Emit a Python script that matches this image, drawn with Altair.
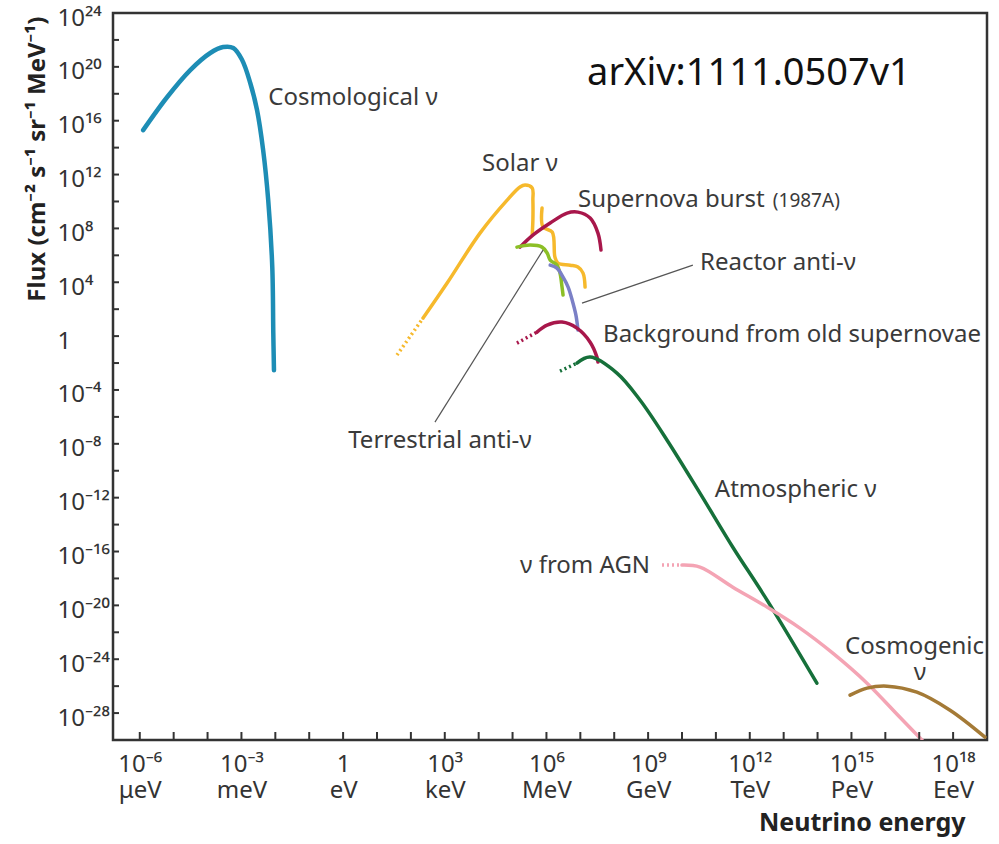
import altair as alt
import pandas as pd

# ---------------- data (log10 of energy in eV, log10 of flux) ----------------
cosmo_logE = [-5.90, -5.19, -4.51, -3.92, -3.54, -3.24, -2.98, -2.74, -2.54, -2.36, -2.21, -2.09, -2.06, -2.04]
cosmo_logF = [15.30, 17.76, 19.76, 21.03, 21.47, 21.40, 20.51, 18.80, 16.79, 13.82, 10.10, 5.13, 0.22, -2.53]

solar_logE = [2.36, 3.07, 4.04, 4.84, 5.22, 5.37, 5.58, 5.60, 5.60, 5.58]
solar_logF = [1.34, 3.94, 7.65, 10.10, 11.07, 11.22, 11.00, 10.10, 8.62, 7.50]
solar_dot_logE = [1.59, 2.36]
solar_dot_logF = [-1.41, 1.34]

solar_b_logE = [5.87, 5.90, 6.17, 6.25, 6.34, 6.70, 6.93, 7.08, 7.14]
solar_b_logF = [9.51, 8.10, 7.73, 5.87, 5.42, 5.27, 5.13, 4.68, 3.64]

snburst_logE = [5.22, 5.60, 6.11, 6.61, 6.93, 7.29, 7.52, 7.61]
snburst_logF = [6.61, 7.50, 8.40, 9.14, 9.21, 8.77, 7.65, 6.39]

terr_logE = [5.13, 5.52, 5.87, 6.02, 6.11, 6.31, 6.40, 6.46, 6.49]
terr_logF = [6.61, 6.76, 6.61, 6.17, 5.65, 5.27, 4.68, 3.64, 3.05]

reactor_logE = [6.11, 6.31, 6.49, 6.64, 6.76, 6.87, 6.93]
reactor_logF = [5.27, 5.05, 4.38, 3.64, 2.67, 1.56, 0.45]

dsnb_logE = [5.72, 6.02, 6.46, 6.90, 7.29, 7.49, 7.52]
dsnb_logF = [0.30, 0.82, 1.04, 0.59, -0.45, -1.56, -1.93]
dsnb_dot_logE = [5.13, 5.72]
dsnb_dot_logF = [-0.52, 0.30]

atm_logE = [6.90, 7.29, 8.08, 8.76, 9.56, 10.53, 11.50, 12.51, 13.98]
atm_logF = [-2.01, -1.56, -2.75, -4.75, -7.73, -11.66, -15.68, -19.61, -25.78]
atm_dot_logE = [6.40, 6.90]
atm_dot_logF = [-2.60, -2.01]

agn_logE = [10.00, 10.53, 11.50, 12.51, 13.48, 14.45, 15.46, 16.43, 17.08]
agn_logF = [-17.01, -17.16, -18.65, -20.13, -21.69, -23.55, -25.78, -28.31, -30.0]
agn_dot_logE = [9.41, 10.00]
agn_dot_logF = [-17.01, -17.01]

cosmogenic_logE = [14.96, 15.46, 16.05, 16.93, 17.91, 18.94]
cosmogenic_logF = [-26.67, -26.15, -26.00, -26.45, -27.79, -29.79]

# pointer lines (label leaders)
ptr_terr_logE = [2.71, 5.90]
ptr_terr_logF = [-6.39, 6.39]
ptr_react_logE = [7.05, 10.32]
ptr_react_logF = [2.45, 5.27]

series_names = ["cosmo", "solar", "solar_b", "snburst", "terr", "reactor", "dsnb", "atm", "agn", "cosmogenic"]
series_colors = ["#1d8db5", "#f6b92c", "#f6b92c", "#a8174b", "#8cbf26", "#7b80c6", "#a8174b", "#16703a", "#f4a4b4", "#a47a36"]

# annotations
ann_text = ["Cosmological ν", "Solar ν", "Supernova burst", "Reactor anti-ν",
            "Background from old supernovae", "Terrestrial anti-ν", "Atmospheric ν",
            "ν from AGN", "Cosmogenic"]
ann_logE = [-2.21, 4.10, 6.93, 10.53, 7.67, 0.15, 10.97, 5.22, 14.81]
ann_logF = [17.16, 12.26, 9.60, 4.90, -0.45, -8.32, -11.96, -17.61, -23.63]

small_text = ["(1987A)"]
small_logE = [12.68]
small_logF = [9.62]

nu_text = ["ν"]
nu_logE = [17.02]
nu_logF = [-25.55]

ref_text = ["arXiv:1111.0507v1"]
ref_logE = [7.20]
ref_logF = [18.65]

# axes
x_tick_exps = [-6, -3, 0, 3, 6, 9, 12, 15, 18]
x_tick_nums = ["10⁻⁶", "10⁻³", "1", "10³", "10⁶", "10⁹", "10¹²", "10¹⁵", "10¹⁸"]
x_tick_units = ["μeV", "meV", "eV", "keV", "MeV", "GeV", "TeV", "PeV", "EeV"]
x_minor_exps = [-6, -5, -4, -3, -2, -1, 0, 1, 2, 3, 4, 5, 6, 7, 8, 9, 10, 11, 12, 13, 14, 15, 16, 17, 18]

y_tick_exps = [24, 20, 16, 12, 8, 4, 0, -4, -8, -12, -16, -20, -24, -28]
y_tick_labels = ["10²⁴", "10²⁰", "10¹⁶", "10¹²", "10⁸", "10⁴", "\u20071", "10⁻⁴", "10⁻⁸",
                 "10⁻¹²", "10⁻¹⁶", "10⁻²⁰", "10⁻²⁴", "10⁻²⁸"]
y_minor_exps = [-28, -26, -24, -22, -20, -18, -16, -14, -12, -10, -8, -6, -4, -2, 0,
                2, 4, 6, 8, 10, 12, 14, 16, 18, 20, 22]

# ---------------- build tables ----------------
def curve(name, le, lf):
    return pd.DataFrame({"series": name, "i": range(len(le)),
                         "E": [10.0 ** v for v in le], "F": [10.0 ** v for v in lf]})

solid = pd.concat([
    curve("cosmo", cosmo_logE, cosmo_logF),
    curve("solar", solar_logE, solar_logF),
    curve("solar_b", solar_b_logE, solar_b_logF),
    curve("snburst", snburst_logE, snburst_logF),
    curve("terr", terr_logE, terr_logF),
    curve("reactor", reactor_logE, reactor_logF),
    curve("dsnb", dsnb_logE, dsnb_logF),
    curve("atm", atm_logE, atm_logF),
    curve("agn", agn_logE, agn_logF),
    curve("cosmogenic", cosmogenic_logE, cosmogenic_logF),
])
solid["w"] = [4.5 if s == "cosmo" else 3.5 for s in solid["series"]]

dotted = pd.concat([
    curve("solar", solar_dot_logE, solar_dot_logF),
    curve("dsnb", dsnb_dot_logE, dsnb_dot_logF),
    curve("atm", atm_dot_logE, atm_dot_logF),
    curve("agn", agn_dot_logE, agn_dot_logF),
])

pointers = pd.concat([
    curve("p1", ptr_terr_logE, ptr_terr_logF),
    curve("p2", ptr_react_logE, ptr_react_logF),
])

def texts(t, le, lf):
    return pd.DataFrame({"t": t, "E": [10.0 ** v for v in le], "F": [10.0 ** v for v in lf]})

xticks = pd.DataFrame({"E": [10.0 ** v for v in x_minor_exps]})
yticks = pd.DataFrame({"F": [10.0 ** v for v in y_minor_exps]})

# ---------------- scales / axes ----------------
FONT = "Noto Sans"
xscale = alt.Scale(type="log", domain=[10 ** -6.79, 10 ** 19.0], nice=False)
yscale = alt.Scale(type="log", domain=[1e-30, 1e24], nice=False)

def xlab_expr():
    e = "['']"
    for k, n, u in reversed(list(zip(x_tick_exps, x_tick_nums, x_tick_units))):
        e = f"round(log(datum.value)/LN10) == {k} ? ['{n}', '{u}'] : ({e})"
    return e

def ylab_expr():
    e = "''"
    for k, n in reversed(list(zip(y_tick_exps, y_tick_labels))):
        e = f"round(log(datum.value)/LN10) == {k} ? '{n}' : ({e})"
    return e

xaxis = alt.Axis(values=[10.0 ** k for k in x_tick_exps], labelExpr=xlab_expr(),
                 title="Neutrino energy", tickSize=0, domain=False, grid=False,
                 labelFont=FONT, labelFontSize=24, labelColor="#333", labelLineHeight=26,
                 labelPadding=12, labelOverlap=False, labelFlush=False, labelBound=False,
                 titleFont=FONT, titleFontSize=25, titleFontWeight="bold", titleColor="#222",
                 titleAnchor="end", titleAlign="right", titleBaseline="alphabetic",
                 titleX=852, titleY=90)
yaxis = alt.Axis(values=[10.0 ** k for k in y_tick_exps], labelExpr=ylab_expr(),
                 title="Flux (cm⁻² s⁻¹ sr⁻¹ MeV⁻¹)", tickSize=0, domain=False, grid=False,
                 labelFont=FONT, labelFontSize=24, labelColor="#333", labelAlign="left",
                 labelBaseline="middle", labelPadding=56, labelOffset=5, labelOverlap=False,
                 labelFlush=False, labelBound=False,
                 titleFont=FONT, titleFontSize=24, titleFontWeight="bold", titleColor="#222",
                 titleAngle=270, titleAlign="right", titleBaseline="middle",
                 titleX=-76, titleY=3)

X = lambda: alt.X("E:Q", scale=xscale, axis=xaxis)
Y = lambda: alt.Y("F:Q", scale=yscale, axis=yaxis)

color = alt.Color("series:N", scale=alt.Scale(domain=series_names, range=series_colors), legend=None)

lines = alt.Chart(solid).mark_line(interpolate="catmull-rom", clip=True, strokeCap="round").encode(
    x=X(), y=Y(),
    color=color,
    size=alt.Size("w:Q", scale=None),
    detail="series:N",
    order="i:O",
)

dots = alt.Chart(dotted).mark_line(strokeWidth=3.5, strokeDash=[2, 3], clip=True).encode(
    x=X(), y=Y(),
    color=color,
    detail="series:N",
    order="i:O",
)

ptrs = alt.Chart(pointers).mark_line(strokeWidth=1.2, color="#555").encode(
    x=X(), y=Y(),
    detail="series:N",
    order="i:O",
)

xt = alt.Chart(xticks).mark_rule(strokeWidth=2, color="#333").encode(
    x=X(),
    y=alt.value(727), y2=alt.value(719),
)
yt = alt.Chart(yticks).mark_rule(strokeWidth=2, color="#333").encode(
    y=Y(),
    x=alt.value(0), x2=alt.value(6),
)

def text_layer(df, size, color, align="left"):
    return alt.Chart(df).mark_text(font=FONT, fontSize=size, color=color, align=align,
                                   baseline="alphabetic").encode(
        x=X(), y=Y(),
        text="t:N",
    )

t_main = text_layer(texts(ann_text, ann_logE, ann_logF), 24, "#3a3a3a")
t_small = text_layer(texts(small_text, small_logE, small_logF), 19, "#3a3a3a")
t_nu = text_layer(texts(nu_text, nu_logE, nu_logF), 24, "#3a3a3a", align="center")
t_ref = text_layer(texts(ref_text, ref_logE, ref_logF), 38, "#111")

chart = alt.layer(lines, dots, ptrs, xt, yt, t_main, t_small, t_nu, t_ref).properties(
    width=874, height=727,
    padding={"left": 113, "top": 13, "right": 12, "bottom": 104},
    autosize=alt.AutoSizeParams(type="none"),
    background="white",
).configure_view(stroke="#333", strokeWidth=2.5)

chart.save("out.html", embed_options={"renderer": "svg", "actions": False})
